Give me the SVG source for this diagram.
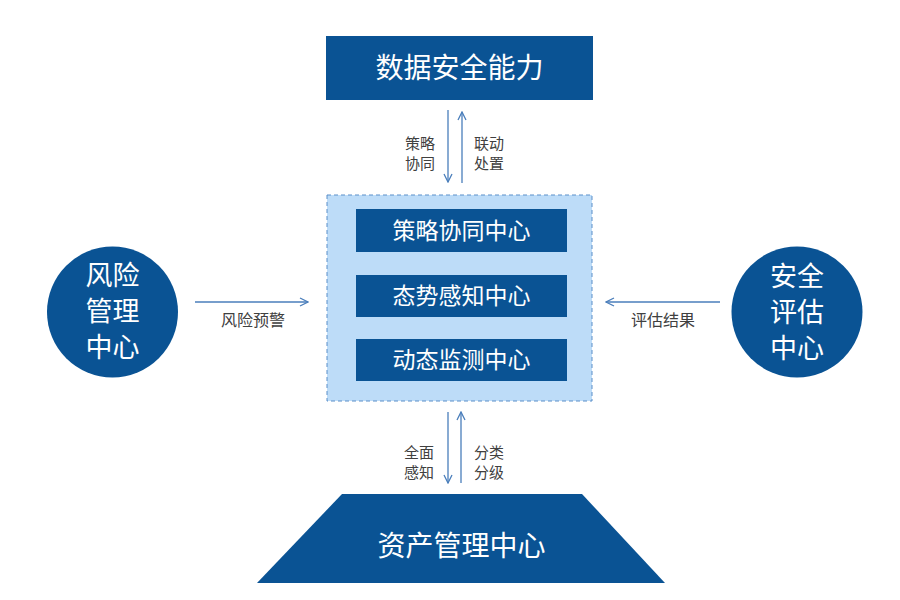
<svg xmlns="http://www.w3.org/2000/svg" width="900" height="600" viewBox="0 0 900 600">
<style>
.dark{fill:#0A5394;}
.wt{fill:#FFFFFF;font-family:"Noto Sans CJK SC","Liberation Sans",sans-serif;text-anchor:middle;}
.cir{fill:#FFFFFF;font-family:"Noto Sans CJK SC","Liberation Sans",sans-serif;text-anchor:middle;font-size:27px;}
.lb{fill:#404040;font-family:"Noto Sans CJK SC","Liberation Sans",sans-serif;font-size:15px;}
.lb2{fill:#404040;font-family:"Noto Sans CJK SC","Liberation Sans",sans-serif;font-size:16px;}
.con{stroke:#4A7EBB;stroke-width:1.3;fill:none;}
</style>
<defs>
<marker id="ah" viewBox="0 0 10 10" refX="9" refY="5" markerWidth="10" markerHeight="10" markerUnits="userSpaceOnUse" orient="auto">
<path d="M1,1 L9,5 L1,9" fill="none" stroke="#4A7EBB" stroke-width="1.3"/>
</marker>
</defs>
<rect width="900" height="600" fill="#FFFFFF"/>
<g id="data-security">
<rect class="dark" x="326" y="36" width="267" height="64"/>
<text class="wt" x="459.5" y="78" font-size="28">数据安全能力</text>
</g>
<g id="center-container">
<rect x="327" y="195" width="265" height="206" fill="#BDDCF8" stroke="#5B8FC9" stroke-width="1" stroke-dasharray="4,3"/>
</g>
<g id="policy-center">
<rect class="dark" x="356" y="209" width="211" height="43"/>
<text class="wt" x="461.5" y="238.5" font-size="23">策略协同中心</text>
</g>
<g id="situation-center">
<rect class="dark" x="356" y="275" width="211" height="42"/>
<text class="wt" x="461.5" y="304" font-size="23">态势感知中心</text>
</g>
<g id="monitor-center">
<rect class="dark" x="356" y="339" width="211" height="42"/>
<text class="wt" x="461.5" y="368" font-size="23">动态监测中心</text>
</g>
<g id="asset-center">
<polygon class="dark" points="342,494 582,494 665,583 257,583"/>
<text class="wt" x="461.5" y="556" font-size="28">资产管理中心</text>
</g>
<g id="risk-center">
<circle class="dark" cx="112.5" cy="312" r="65.5"/>
<text class="cir" x="112.5" y="285">风险</text>
<text class="cir" x="112.5" y="321">管理</text>
<text class="cir" x="112.5" y="357">中心</text>
</g>
<g id="eval-center">
<circle class="dark" cx="797" cy="312" r="65.5"/>
<text class="cir" x="797" y="286">安全</text>
<text class="cir" x="797" y="322">评估</text>
<text class="cir" x="797" y="358">中心</text>
</g>
<g id="connectors">
<line class="con" x1="448" y1="110" x2="448" y2="182" marker-end="url(#ah)"/>
<line class="con" x1="462" y1="183" x2="462" y2="112" marker-end="url(#ah)"/>
<line class="con" x1="448" y1="412" x2="448" y2="483" marker-end="url(#ah)"/>
<line class="con" x1="461" y1="483" x2="461" y2="412" marker-end="url(#ah)"/>
<line class="con" x1="195" y1="302" x2="308" y2="302" marker-end="url(#ah)"/>
<line class="con" x1="720" y1="302" x2="606" y2="302" marker-end="url(#ah)"/>
<text class="lb" x="435" y="148.5" text-anchor="end">策略</text>
<text class="lb" x="435" y="168.5" text-anchor="end">协同</text>
<text class="lb" x="474" y="148.5">联动</text>
<text class="lb" x="474" y="168.5">处置</text>
<text class="lb" x="434" y="458" text-anchor="end">全面</text>
<text class="lb" x="434" y="478" text-anchor="end">感知</text>
<text class="lb" x="474" y="458">分类</text>
<text class="lb" x="474" y="478">分级</text>
<text class="lb2" x="253" y="326" text-anchor="middle">风险预警</text>
<text class="lb2" x="663" y="326" text-anchor="middle">评估结果</text>
</g>
</svg>
